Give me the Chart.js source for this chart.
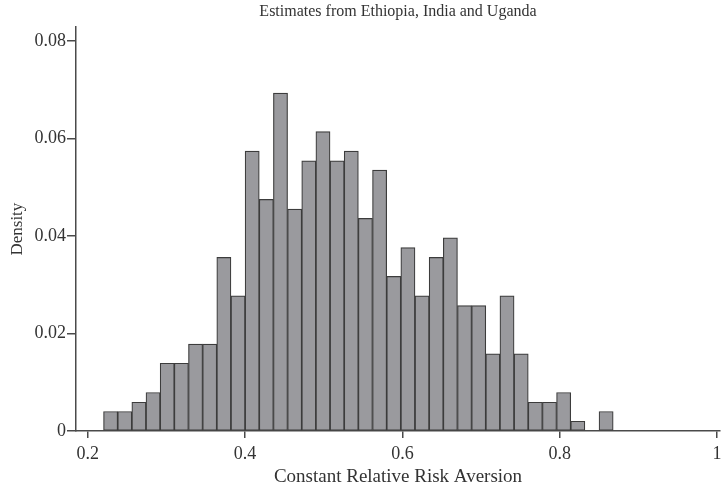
<!DOCTYPE html>
<html>
<head>
<meta charset="utf-8">
<title>Constant Relative Risk Aversion</title>
<script src="https://cdn.jsdelivr.net/npm/chart.js@4.4.1/dist/chart.umd.min.js"></script>
<style>
    html, body { margin: 0; padding: 0; background: #ffffff; }
    canvas { display: block; }
</style>
</head>
<body>
<canvas id="histChart" width="722" height="486"></canvas>
<script>
// Milieux des classes (largeur 0.018)
const binCenters = [
    0.229, 0.247, 0.265, 0.283, 0.301, 0.319, 0.337, 0.355, 0.373, 0.391,
    0.409, 0.427, 0.445, 0.463, 0.481, 0.499, 0.517, 0.535, 0.553, 0.571,
    0.589, 0.607, 0.625, 0.643, 0.661, 0.679, 0.697, 0.715, 0.733, 0.751,
    0.769, 0.787, 0.805, 0.823, 0.841, 0.859
];
// Densité (null = classe vide)
const densities = [
    0.0040, 0.0040, 0.0059, 0.0079, 0.0139, 0.0139, 0.0178, 0.0178, 0.0356, 0.0277,
    0.0574, 0.0475, 0.0693, 0.0455, 0.0554, 0.0614, 0.0554, 0.0574, 0.0436, 0.0535,
    0.0317, 0.0376, 0.0277, 0.0356, 0.0396, 0.0257, 0.0257, 0.0158, 0.0277, 0.0158,
    0.0059, 0.0059, 0.0079, 0.0020, null, 0.0040
];
const xTicks = [0.2, 0.4, 0.6, 0.8, 1];
const yTicks = [0, 0.02, 0.04, 0.06, 0.08];

const axisColor = '#4a4a4a';
const textColor = '#333333';
const serif = '"Liberation Serif", "DejaVu Serif", serif';

const points = binCenters.map((x, i) => ({ x: x, y: densities[i] }));

new Chart(document.getElementById('histChart'), {
    type: 'bar',
    data: {
        datasets: [{
            label: 'Density',
            data: points,
            backgroundColor: '#9a9a9e',
            borderColor: '#3c3c3c',
            borderWidth: 1.2,
            borderSkipped: false,
            barPercentage: 1,
            categoryPercentage: 1
        }]
    },
    options: {
        responsive: false,
        animation: false,
        devicePixelRatio: 1,
        layout: {
            padding: { left: 0, right: 2, top: 0, bottom: 0 }
        },
        plugins: {
            legend: { display: false },
            tooltip: { enabled: false },
            title: {
                display: true,
                text: 'Estimates from Ethiopia, India and Uganda',
                fullSize: false,
                color: textColor,
                font: { family: serif, size: 16, weight: 'normal' },
                padding: { top: 2, bottom: 6 }
            }
        },
        scales: {
            x: {
                type: 'linear',
                offset: false,
                min: 0.185,
                max: 1.0038,
                afterBuildTicks: axis => {
                    axis.ticks = xTicks.map(v => ({ value: v }));
                },
                afterFit: axis => {
                    axis.height = 55;
                    axis.paddingLeft = 0;
                    axis.paddingRight = 0;
                },
                ticks: {
                    color: textColor,
                    font: { family: serif, size: 18 },
                    padding: 5,
                    maxRotation: 0,
                    callback: v => String(v)
                },
                grid: {
                    offset: false,
                    drawOnChartArea: false,
                    drawTicks: true,
                    tickLength: 7,
                    color: axisColor,
                    lineWidth: 1.5
                },
                border: { display: true, color: axisColor, width: 1.5 },
                title: {
                    display: true,
                    text: 'Constant Relative Risk Aversion',
                    color: textColor,
                    font: { family: serif, size: 19 },
                    padding: { top: 0, bottom: -2 }
                }
            },
            y: {
                min: 0,
                max: 0.0828,
                afterBuildTicks: axis => {
                    axis.ticks = yTicks.map(v => ({ value: v }));
                },
                afterFit: axis => {
                    axis.width = 76;
                },
                ticks: {
                    color: textColor,
                    font: { family: serif, size: 18 },
                    padding: 1,
                    callback: v => String(v)
                },
                grid: {
                    drawOnChartArea: false,
                    drawTicks: true,
                    tickLength: 9,
                    color: axisColor,
                    lineWidth: 1.5
                },
                border: { display: true, color: axisColor, width: 1.5 },
                title: {
                    display: true,
                    text: 'Density',
                    color: textColor,
                    font: { family: serif, size: 17 },
                    padding: { top: 7, bottom: 0 }
                }
            }
        }
    }
});
</script>
</body>
</html>
